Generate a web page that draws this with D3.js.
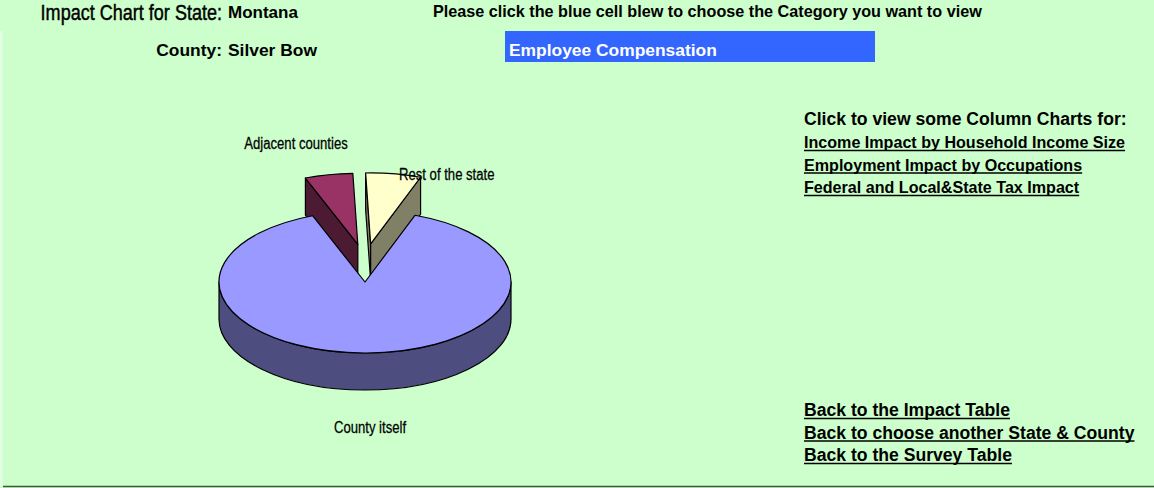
<!DOCTYPE html>
<html>
<head>
<meta charset="utf-8">
<script src="https://cdn.jsdelivr.net/npm/d3@7"></script>
<style>
  html, body { margin: 0; padding: 0; background: #CCFFCC; }
  svg { display: block; }
</style>
</head>
<body>
<svg id="chart" width="1154" height="488"></svg>
<script>
// ---------- data ----------
const stateName = "Montana";
const countyName = "Silver Bow";
const categoryName = "Employee Compensation";
const categories = ["County itself", "Adjacent counties", "Rest of the state"];
const shares = [88.6, 5.3, 6.1];          // percent of impact
const exploded = [false, true, true];
const topColors = ["#9999FF", "#993366", "#FFFFCC"];
const sideColors = ["#4D4D80", "#4D1A33", "#808066"];
const chartLinks = ["Income Impact by Household Income Size",
                    "Employment Impact by Occupations",
                    "Federal and Local&State Tax Impact"];
const backLinks = ["Back to the Impact Table",
                   "Back to choose another State & County",
                   "Back to the Survey Table"];

// ---------- layout ----------
const W = 1154, H = 488;
const svg = d3.select("#chart");
svg.append("rect").attr("width", W).attr("height", H).attr("fill", "#CCFFCC");
svg.append("rect").attr("x", 0).attr("y", 31).attr("width", 2.5).attr("height", 455).attr("fill", "#E2FFE2");
svg.append("line").attr("x1", 3).attr("x2", W).attr("y1", 486.5).attr("y2", 486.5)
   .attr("stroke", "#3A5A3A").attr("stroke-width", 1.5);

const sans = "'Liberation Sans', Arial, Helvetica, sans-serif";
const NARROW = 0.82;   // emulate Arial Narrow by horizontal squeeze

function narrowText(x, y, size, anchor, str, weightStroke) {
  return svg.append("text")
    .attr("transform", `translate(${x},${y}) scale(${NARROW},1)`)
    .attr("text-anchor", anchor)
    .attr("stroke", "#000").attr("stroke-width", weightStroke || 0.3)
    .style("font-family", sans).style("font-size", size + "px")
    .text(str);
}
function boldText(x, y, size, anchor, str, fill) {
  return svg.append("text").attr("x", x).attr("y", y).attr("text-anchor", anchor)
    .style("font-family", sans).style("font-weight", "bold").style("font-size", size + "px")
    .attr("fill", fill || "#000").text(str);
}

// header
narrowText(222, 20, 22, "end", "Impact Chart for State:", 0.45);
boldText(228, 18, 17, "start", stateName);
boldText(222, 56, 17.4, "end", "County:");
boldText(228, 56, 17.4, "start", countyName);
boldText(433, 17, 16.2, "start", "Please click the blue cell blew to choose the Category you want to view");
svg.append("rect").attr("x", 505).attr("y", 31).attr("width", 370).attr("height", 31).attr("fill", "#3366FF");
boldText(509, 56, 17.4, "start", categoryName, "#FFFFFF");

// right side links
boldText(804, 125, 17.6, "start", "Click to view some Column Charts for:");

function linkBlock(list, y0, size) {
  list.forEach((t, i) => {
    const y = y0 + i * 22.5;
    const tx = boldText(804, y, size, "start", t);
    const w = tx.node().getComputedTextLength();
    svg.append("line").attr("x1", 804).attr("x2", 804 + w).attr("y1", y + 2.5).attr("y2", y + 2.5)
      .attr("stroke", "#000").attr("stroke-width", 1.6);
  });
}
linkBlock(chartLinks, 148, 16.1);
linkBlock(backLinks, 416, 17.6);

// ---------- 3D pie ----------
const cx = 365, cy = 282, rx = 146, ry = 71, depth = 37;
const EX = 36, EY = 38.5;   // explosion distance (screen units)
const deg = Math.PI / 180;
const arcs = d3.pie().sort(null).value(d => d)
  .startAngle(20 * deg).endAngle(20 * deg + 2 * Math.PI)(shares);

function P(a, ox, oy) { return [ox + rx * Math.sin(a), oy - ry * Math.cos(a)]; }

const slices = arcs.map((a, i) => {
  const mid = (a.startAngle + a.endAngle) / 2;
  const ox = cx + (exploded[i] ? EX * Math.sin(mid) : 0);
  const oy = cy + (exploded[i] ? -EY * Math.cos(mid) : 0);
  return { i, a0: a.startAngle, a1: a.endAngle, ox, oy };
});

const pie = svg.append("g").attr("stroke", "#000").attr("stroke-width", 1.2).attr("stroke-linejoin", "round");

function topPath(s) {
  const p0 = P(s.a0, s.ox, s.oy), p1 = P(s.a1, s.ox, s.oy);
  const large = (s.a1 - s.a0) > Math.PI ? 1 : 0;
  return `M${s.ox},${s.oy}L${p0}A${rx},${ry} 0 ${large} 1 ${p1}Z`;
}
function cutPath(s, a) {
  const p = P(a, s.ox, s.oy);
  return `M${s.ox},${s.oy}L${p}L${p[0]},${p[1] + depth}L${s.ox},${s.oy + depth}Z`;
}
function wallPaths(s) {
  const out = [];
  [0, 2 * Math.PI].forEach(k => {
    const b0 = Math.max(s.a0, Math.PI / 2 + k), b1 = Math.min(s.a1, 1.5 * Math.PI + k);
    if (b1 > b0) {
      const t0 = P(b0, s.ox, s.oy), t1 = P(b1, s.ox, s.oy);
      out.push(`M${t0}A${rx},${ry} 0 0 1 ${t1}L${t1[0]},${t1[1] + depth}A${rx},${ry} 0 0 0 ${t0[0]},${t0[1] + depth}Z`);
    }
  });
  return out;
}

// painter's order: exploded slices first (behind), main slice last
const order = slices.slice().sort((a, b) => (exploded[b.i] ? 1 : 0) - (exploded[a.i] ? 1 : 0));
order.forEach(s => {
  const g = pie.append("g");
  if (Math.sin(s.a0) < -0.001) g.append("path").attr("d", cutPath(s, s.a0)).attr("fill", sideColors[s.i]);
  if (Math.sin(s.a1) > 0.001) g.append("path").attr("d", cutPath(s, s.a1)).attr("fill", sideColors[s.i]);
  wallPaths(s).forEach(d => g.append("path").attr("d", d).attr("fill", sideColors[s.i]));
  g.append("path").attr("d", topPath(s)).attr("fill", topColors[s.i]);
});

// slice labels
const labelPos = [
  { dx: 5, dy: 151, anchor: "middle" },
  { dx: -69, dy: -133, anchor: "middle" },
  { dx: 34, dy: -102, anchor: "start" }
];
categories.forEach((c, i) => {
  narrowText(cx + labelPos[i].dx, cy + labelPos[i].dy, 16, labelPos[i].anchor, c, 0.25);
});
</script>
</body>
</html>
